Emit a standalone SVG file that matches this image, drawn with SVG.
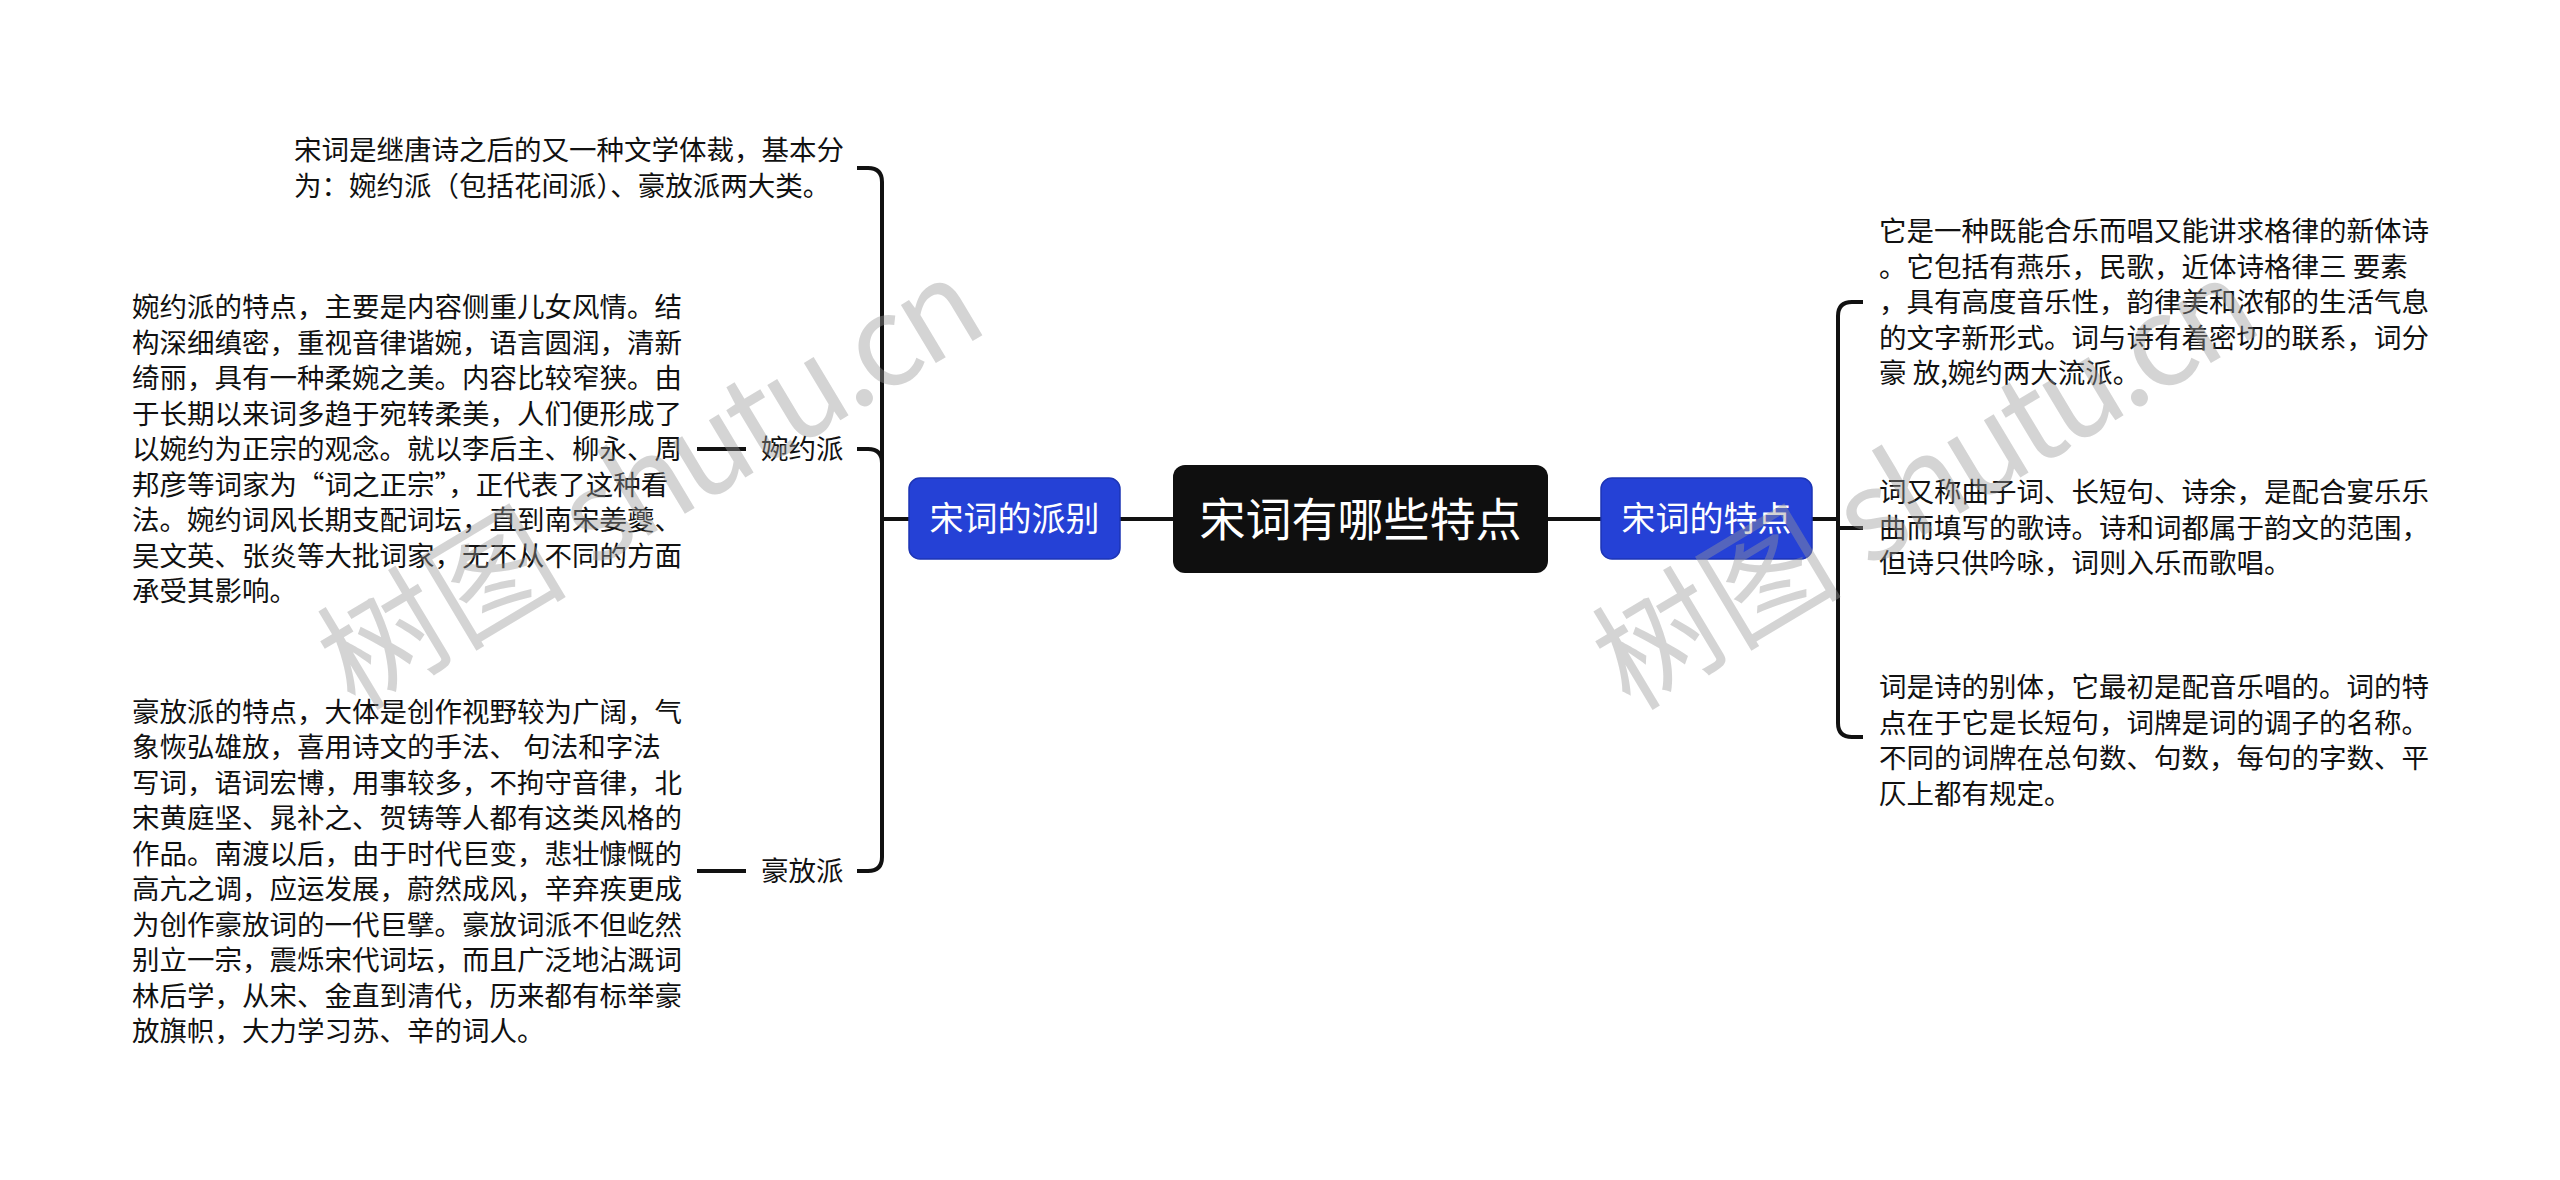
<svg xmlns="http://www.w3.org/2000/svg" width="2560" height="1180" viewBox="0 0 2560 1180">
<style>
.t{font-family:"Noto Sans CJK SC","Noto Sans",sans-serif;font-size:27.5px;fill:#111}
.lab{font-family:"Noto Sans CJK SC","Noto Sans",sans-serif;font-size:27.5px;fill:#111}
.nt{font-family:"Noto Sans CJK SC","Noto Sans",sans-serif;fill:#fff;text-anchor:middle}
.c{fill:none;stroke:#111;stroke-width:4;stroke-linecap:butt;stroke-linejoin:round}
.blue{fill:#2541d6;stroke:#1d35b5;stroke-width:1.5}
.wm{font-family:"Noto Sans CJK SC","Noto Sans",sans-serif;font-size:125px;fill:#999;fill-opacity:0.42}
</style>
<rect width="2560" height="1180" fill="#fff"/>
<g id="connectors">
<path class="c" d="M1120 519 H1173"/>
<path class="c" d="M1548 519 H1602"/>
<path class="c" d="M909 519 H882"/>
<path class="c" d="M882 519 V182 Q882 168 868 168 H857"/>
<path class="c" d="M882 519 V463 Q882 449 868 449 H857"/>
<path class="c" d="M882 519 V857 Q882 871 868 871 H857"/>
<path class="c" d="M746 449 H697"/>
<path class="c" d="M746 871 H697"/>
<path class="c" d="M1811 519 H1838"/>
<path class="c" d="M1838 519 V316 Q1838 302 1852 302 H1863"/>
<path class="c" d="M1838 519 V528 H1863"/>
<path class="c" d="M1838 519 V723 Q1838 737 1852 737 H1863"/>
</g>
<g id="root">
<rect x="1173" y="465" width="375" height="108" rx="12" fill="#0f0f0f"/>
<text class="nt" x="1360.5" y="536" font-size="46">宋词有哪些特点</text>
</g>
<g id="node-left">
<rect class="blue" x="909" y="478" width="211" height="81" rx="11"/>
<text class="nt" x="1014.5" y="531" font-size="34">宋词的派别</text>
</g>
<g id="node-right">
<rect class="blue" x="1601" y="478" width="211" height="81" rx="11"/>
<text class="nt" x="1706.5" y="531" font-size="34">宋词的特点</text>
</g>
<g id="left-intro">
<text class="t" x="294"><tspan x="294" y="160">宋词是继唐诗之后的又一种文学体裁，基本分</tspan><tspan x="294" y="196">为：婉约派（包括花间派）、豪放派两大类。</tspan></text>
</g>
<g id="label-wanyue">
<text class="lab" x="761" y="459">婉约派</text>
</g>
<g id="text-wanyue">
<text class="t"><tspan x="132" y="317">婉约派的特点，主要是内容侧重儿女风情。结</tspan><tspan x="132" y="352.5">构深细缜密，重视音律谐婉，语言圆润，清新</tspan><tspan x="132" y="388">绮丽，具有一种柔婉之美。内容比较窄狭。由</tspan><tspan x="132" y="423.5">于长期以来词多趋于宛转柔美，人们便形成了</tspan><tspan x="132" y="459">以婉约为正宗的观念。就以李后主、柳永、周</tspan><tspan x="132" y="494.5">邦彦等词家为“词之正宗”，正代表了这种看</tspan><tspan x="132" y="530">法。婉约词风长期支配词坛，直到南宋姜夔、</tspan><tspan x="132" y="565.5">吴文英、张炎等大批词家，无不从不同的方面</tspan><tspan x="132" y="601">承受其影响。</tspan></text>
</g>
<g id="label-haofang">
<text class="lab" x="761" y="881">豪放派</text>
</g>
<g id="text-haofang">
<text class="t"><tspan x="132" y="721.5">豪放派的特点，大体是创作视野较为广阔，气</tspan><tspan x="132" y="757">象恢弘雄放，喜用诗文的手法、 句法和字法</tspan><tspan x="132" y="792.5">写词，语词宏博，用事较多，不拘守音律，北</tspan><tspan x="132" y="828">宋黄庭坚、晁补之、贺铸等人都有这类风格的</tspan><tspan x="132" y="863.5">作品。南渡以后，由于时代巨变，悲壮慷慨的</tspan><tspan x="132" y="899">高亢之调，应运发展，蔚然成风，辛弃疾更成</tspan><tspan x="132" y="934.5">为创作豪放词的一代巨擘。豪放词派不但屹然</tspan><tspan x="132" y="970">别立一宗，震烁宋代词坛，而且广泛地沾溉词</tspan><tspan x="132" y="1005.5">林后学，从宋、金直到清代，历来都有标举豪</tspan><tspan x="132" y="1041">放旗帜，大力学习苏、辛的词人。</tspan></text>
</g>
<g id="text-right-1">
<text class="t"><tspan x="1879" y="241">它是一种既能合乐而唱又能讲求格律的新体诗</tspan><tspan x="1879" y="276.5">。它包括有燕乐，民歌，近体诗格律三 要素</tspan><tspan x="1879" y="312">，具有高度音乐性，韵律美和浓郁的生活气息</tspan><tspan x="1879" y="347.5">的文字新形式。词与诗有着密切的联系，词分</tspan><tspan x="1879" y="383">豪 放,婉约两大流派。</tspan></text>
</g>
<g id="text-right-2">
<text class="t"><tspan x="1879" y="502">词又称曲子词、长短句、诗余，是配合宴乐乐</tspan><tspan x="1879" y="537.5">曲而填写的歌诗。诗和词都属于韵文的范围，</tspan><tspan x="1879" y="573">但诗只供吟咏，词则入乐而歌唱。</tspan></text>
</g>
<g id="text-right-3">
<text class="t"><tspan x="1879" y="697">词是诗的别体，它最初是配音乐唱的。词的特</tspan><tspan x="1879" y="732.5">点在于它是长短句，词牌是词的调子的名称。</tspan><tspan x="1879" y="768">不同的词牌在总句数、句数，每句的字数、平</tspan><tspan x="1879" y="803.5">仄上都有规定。</tspan></text>
</g>
<g id="watermarks">
<text class="wm" transform="translate(355 712) rotate(-31)">树图 <tspan letter-spacing="-6">shutu.cn</tspan></text>
<text class="wm" transform="translate(1630 712) rotate(-31)">树图 <tspan letter-spacing="-6">shutu.cn</tspan></text>
</g>
</svg>
